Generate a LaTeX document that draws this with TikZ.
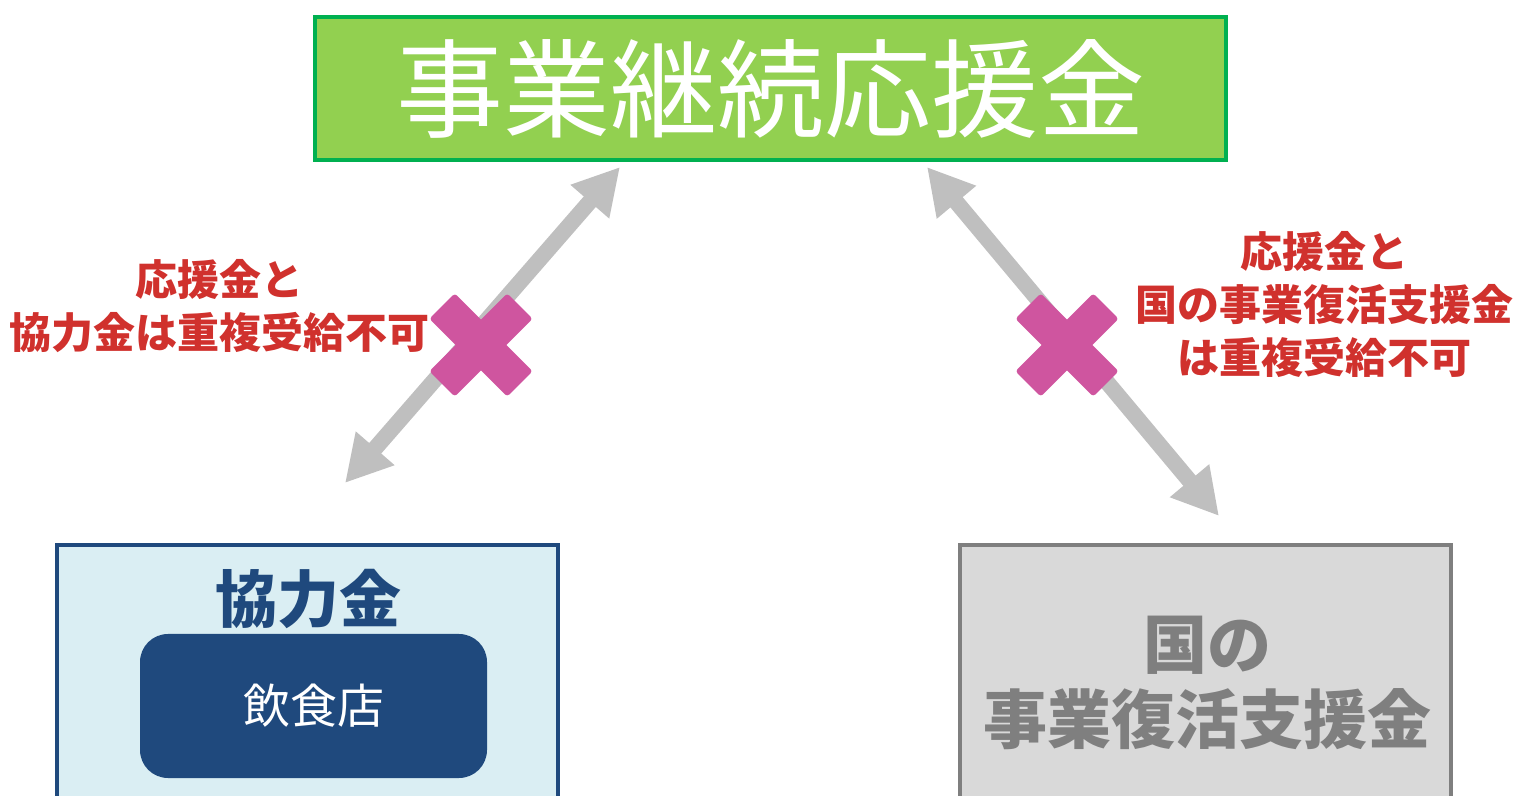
\documentclass[tikz,border=0pt]{standalone}
\usepackage{fontspec}
\newfontfamily\jpfont{Noto Sans CJK JP}
\usetikzlibrary{arrows.meta}
\definecolor{topfill}{HTML}{92D050}
\definecolor{topline}{HTML}{00B050}
\definecolor{kyofill}{HTML}{DAEEF3}
\definecolor{kyoline}{HTML}{1F497D}
\definecolor{fukfill}{HTML}{D9D9D9}
\definecolor{fukline}{HTML}{7F7F7F}
\definecolor{arrowgray}{HTML}{BFBFBF}
\definecolor{xpink}{HTML}{CF559F}
\definecolor{notered}{HTML}{D0312D}
\tikzset{
  dbl/.style={<->, draw=arrowgray, line width=8pt, >={Triangle[length=23pt,width=24pt]}},
  xbar/.style={fill=xpink, minimum width=55pt, minimum height=18pt, rounded corners=1.5pt, inner sep=0pt},
  note/.style={text=notered, align=center, font=\jpfont\bfseries\fontsize{21}{26.5}\selectfont},
}

\begin{document}
\begin{tikzpicture}[x=0.5pt, y=-0.5pt]

  \useasboundingbox (0,0) rectangle (1517,796);
  \clip (0,0) rectangle (1517,796);

  %% top box
  \node[draw=topline, fill=topfill, line width=2.2pt, minimum width=455.5pt, minimum height=71.5pt, inner sep=0pt,
        text=white, font=\jpfont\fontsize{53.5}{53.5}\selectfont] (top) at (770.5,88.5) {事業継続応援金};

  %% left box
  \node[draw=kyoline, fill=kyofill, line width=2pt, minimum width=250.5pt, minimum height=177.5pt] (kyo) at (307.5,722.5) {};
  \node[text=kyoline, font=\jpfont\bfseries\fontsize{31}{31}\selectfont] (kyotitle) at (308,599) {協力金};
  \node[fill=kyoline, rounded corners=14pt, minimum width=173.5pt, minimum height=72pt,
        text=white, font=\jpfont\fontsize{23.5}{23.5}\selectfont] (inshoku) at (313.5,706) {飲食店};

  %% right box
  \node[draw=fukline, fill=fukfill, line width=2pt, minimum width=245.5pt, minimum height=177.5pt] (fuk) at (1205.5,722.5) {};
  \node[text=fukline, align=center, font=\jpfont\bfseries\fontsize{32}{37.5}\selectfont] (fuktxt) at (1207,683) {国の\\事業復活支援金};

  % arrow ends
  \coordinate (l1) at (620,167);
  \coordinate (l2) at (345,483);
  \coordinate (r1) at (927,167);
  \coordinate (r2) at (1219,516);

  \draw[dbl] (l1) -- (l2); %% top <-> left
  \draw[dbl] (r1) -- (r2); %% top <-> right

  % crosses
  \node[xbar, rotate=45]  (xl1) at (481,345) {};
  \node[xbar, rotate=-45] (xl2) at (481,345) {};
  \node[xbar, rotate=45]  (xr1) at (1067,345) {};
  \node[xbar, rotate=-45] (xr2) at (1067,345) {};

  \node[note] (noteL) at (220,306) {応援金と\\協力金は重複受給不可};
  \node[note] (noteR) at (1324,305) {応援金と\\国の事業復活支援金\\は重複受給不可};

\end{tikzpicture}
\end{document}
